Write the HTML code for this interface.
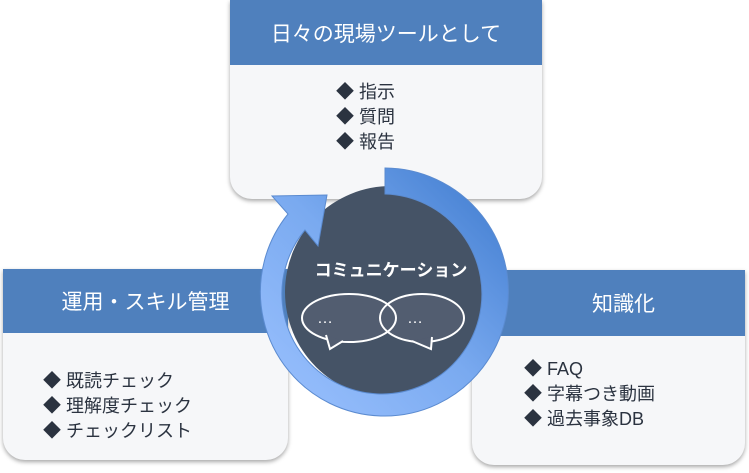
<!DOCTYPE html><html><head><meta charset="utf-8"><style>
body{margin:0;width:749px;height:473px;background:#fff;position:relative;overflow:hidden;font-family:"Liberation Sans","Noto Sans CJK JP",sans-serif}
.box{position:absolute;background:#f6f7f9;border-radius:0 0 22px 22px;box-shadow:0 2px 4px rgba(0,0,0,.35);overflow:hidden}
.hd{background:#4f80bd;color:#fff;font-size:21px;display:flex;align-items:center;justify-content:center}
.items{position:absolute;font-size:18px;color:#2b3340;line-height:25px;white-space:nowrap}
</style></head><body>
<div class="box" style="left:230px;top:0;width:312px;height:199px"><div class="hd" style="height:65px">日々の現場ツールとして</div>
<div class="items" style="left:106px;top:80px">◆ 指示<br>◆ 質問<br>◆ 報告</div></div>
<div class="box" style="left:3px;top:269px;width:285px;height:191px"><div class="hd" style="height:64px">運用・スキル管理</div>
<div class="items" style="left:40px;top:100px">◆ 既読チェック<br>◆ 理解度チェック<br>◆ チェックリスト</div></div>
<div class="box" style="left:472px;top:270px;width:273px;height:195px"><div class="hd" style="height:66px;padding-left:30px;box-sizing:border-box">知識化</div>
<div class="items" style="left:52px;top:87px">◆ FAQ<br>◆ 字幕つき動画<br>◆ 過去事象DB</div></div>
<svg style="position:absolute;left:0;top:0" width="749" height="473">
<defs><linearGradient id="g" x1="1" y1="0" x2="0" y2="1"><stop offset="0" stop-color="#3b78cc"/><stop offset=".5" stop-color="#7aaaf0"/><stop offset="1" stop-color="#9cc2ff"/></linearGradient></defs>
<circle cx="391" cy="292" r="106" fill="#455366"/>
<path d="M385 168 A124 124 0 1 1 288 214 L272 196 L327 195 L318 246 L305 230 A100 100 0 1 0 385 194 Z" fill="url(#g)" stroke="#5b8bd0" stroke-width="1"/>
<text x="391" y="276" fill="#fff" font-size="17" font-weight="bold" text-anchor="middle" font-family="Liberation Sans,Noto Sans CJK JP,sans-serif">コミュニケーション</text>
<g fill="#525d70">
<ellipse cx="422" cy="318" rx="42" ry="24"/><ellipse cx="349" cy="318" rx="47" ry="24"/>
<path d="M326 336 L330 349 L342 341 Z"/><path d="M412 340 L431 349 L432 337 Z"/>
</g>
<g fill="none" stroke="#fff" stroke-width="2">
<ellipse cx="422" cy="318" rx="42" ry="24"/><ellipse cx="349" cy="318" rx="47" ry="24"/>
</g>
<g fill="#525d70" stroke="#fff" stroke-width="2">
<path d="M326 335 L330 349 L343 341"/><path d="M412 341 L431 349 L432 337"/>
</g>
<text x="317" y="323" fill="#fff" font-size="16">…</text><text x="407" y="323" fill="#fff" font-size="16">…</text>
</svg>
</body></html>
